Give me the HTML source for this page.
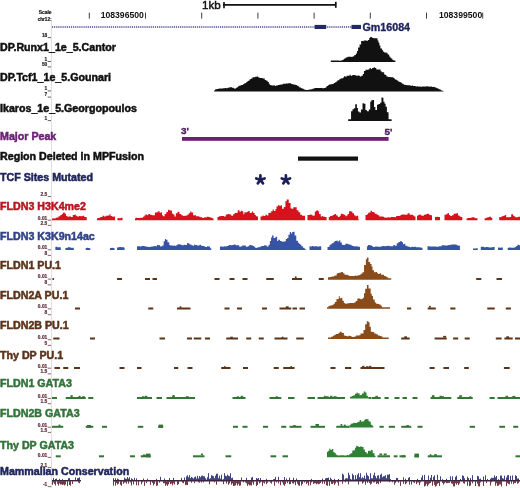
<!DOCTYPE html>
<html><head><meta charset="utf-8"><style>
html,body{margin:0;padding:0;background:#fff;width:520px;height:488px;overflow:hidden}
svg{display:block;font-family:"Liberation Sans", sans-serif;filter:blur(0.4px)}
</style></head><body>
<svg width="520" height="488" viewBox="0 0 520 488">
<line x1="51.5" y1="20" x2="51.5" y2="488" stroke="#e2dede" stroke-width="1" />
<text x="51.5" y="14.4" fill="#111" font-size="4.9" font-weight="bold" text-anchor="end" stroke="#111" stroke-width="0.2" >Scale</text>
<text x="51.5" y="20.7" fill="#111" font-size="4.6" font-weight="bold" text-anchor="end" stroke="#111" stroke-width="0.2" >chr12:</text>
<line x1="89.3" y1="12.6" x2="89.3" y2="18.6" stroke="#333" stroke-width="0.95" />
<line x1="145.5" y1="12.6" x2="145.5" y2="18.6" stroke="#333" stroke-width="0.95" />
<line x1="201.7" y1="12.6" x2="201.7" y2="18.6" stroke="#333" stroke-width="0.95" />
<line x1="257.90000000000003" y1="12.6" x2="257.90000000000003" y2="18.6" stroke="#333" stroke-width="0.95" />
<line x1="314.1" y1="12.6" x2="314.1" y2="18.6" stroke="#333" stroke-width="0.95" />
<line x1="370.3" y1="12.6" x2="370.3" y2="18.6" stroke="#333" stroke-width="0.95" />
<line x1="426.50000000000006" y1="12.6" x2="426.50000000000006" y2="18.6" stroke="#333" stroke-width="0.95" />
<line x1="482.70000000000005" y1="12.6" x2="482.70000000000005" y2="18.6" stroke="#333" stroke-width="0.95" />
<text x="143.9" y="18.1" fill="#111" font-size="9.3" font-weight="bold" text-anchor="end" transform="translate(143.9,18.1) scale(0.93,1) translate(-143.9,-18.1)">108396500</text>
<text x="482.2" y="18.1" fill="#111" font-size="9.3" font-weight="bold" text-anchor="end" transform="translate(482.2,18.1) scale(0.93,1) translate(-482.2,-18.1)">108399500</text>
<text x="202" y="8.9" fill="#111" font-size="11.6" font-weight="normal" text-anchor="start" stroke="#111" stroke-width="0.45" >1kb</text>
<line x1="223" y1="4.9" x2="336" y2="4.9" stroke="#111" stroke-width="1.8" />
<line x1="224" y1="2" x2="224" y2="8.2" stroke="#111" stroke-width="1.6" />
<line x1="335.8" y1="1.8" x2="335.8" y2="7.8" stroke="#111" stroke-width="1.7" />
<line x1="52" y1="27.1" x2="352" y2="27.1" stroke="#4a4a90" stroke-width="1.5" stroke-dasharray="1.2 0.9"/>
<rect x="314.6" y="24.9" width="11.6" height="4.1" fill="#24286a"/>
<rect x="351.5" y="24.9" width="9.5" height="4.1" fill="#24286a"/>
<text x="362.5" y="30.5" fill="#20265c" font-size="10.7" font-weight="bold" text-anchor="start" stroke="#20265c" stroke-width="0.35" >Gm16084</text>
<text transform="translate(0,50.5) scale(1.022,1)" fill="#111111" font-size="10.45" font-weight="bold" text-anchor="start" stroke="#111111" stroke-width="0.5" >DP.Runx1_1e_5.Cantor</text>
<text transform="translate(0,80.5) scale(1.022,1)" fill="#111111" font-size="10.45" font-weight="bold" text-anchor="start" stroke="#111111" stroke-width="0.5" >DP.Tcf1_1e_5.Gounari</text>
<text transform="translate(0,111.9) scale(1.022,1)" fill="#111111" font-size="10.45" font-weight="bold" text-anchor="start" stroke="#111111" stroke-width="0.5" >Ikaros_1e_5.Georgopoulos</text>
<text transform="translate(0,140.39999999999998) scale(1.022,1)" fill="#6c2276" font-size="10.45" font-weight="bold" text-anchor="start" stroke="#6c2276" stroke-width="0.5" >Major Peak</text>
<text transform="translate(0,160.2) scale(1.022,1)" fill="#111111" font-size="10.45" font-weight="bold" text-anchor="start" stroke="#111111" stroke-width="0.5" >Region Deleted in MPFusion</text>
<text transform="translate(0,181.39999999999998) scale(1.022,1)" fill="#20265c" font-size="10.45" font-weight="bold" text-anchor="start" stroke="#20265c" stroke-width="0.5" >TCF Sites Mutated</text>
<text transform="translate(0,209.89999999999998) scale(1.022,1)" fill="#b81522" font-size="10.45" font-weight="bold" text-anchor="start" stroke="#b81522" stroke-width="0.5" >FLDN3 H3K4me2</text>
<text transform="translate(0,240.2) scale(1.022,1)" fill="#31438a" font-size="10.45" font-weight="bold" text-anchor="start" stroke="#31438a" stroke-width="0.5" >FLDN3 K3K9n14ac</text>
<text transform="translate(0,269.4) scale(1.022,1)" fill="#5c331a" font-size="10.45" font-weight="bold" text-anchor="start" stroke="#5c331a" stroke-width="0.5" >FLDN1 PU.1</text>
<text transform="translate(0,299.4) scale(1.022,1)" fill="#5c331a" font-size="10.45" font-weight="bold" text-anchor="start" stroke="#5c331a" stroke-width="0.5" >FLDN2A PU.1</text>
<text transform="translate(0,328.5) scale(1.022,1)" fill="#5c331a" font-size="10.45" font-weight="bold" text-anchor="start" stroke="#5c331a" stroke-width="0.5" >FLDN2B PU.1</text>
<text transform="translate(0,358.5) scale(1.022,1)" fill="#5c331a" font-size="10.45" font-weight="bold" text-anchor="start" stroke="#5c331a" stroke-width="0.5" >Thy DP PU.1</text>
<text transform="translate(0,387.2) scale(1.022,1)" fill="#33733a" font-size="10.45" font-weight="bold" text-anchor="start" stroke="#33733a" stroke-width="0.5" >FLDN1 GATA3</text>
<text transform="translate(0,417.2) scale(1.022,1)" fill="#33733a" font-size="10.45" font-weight="bold" text-anchor="start" stroke="#33733a" stroke-width="0.5" >FLDN2B GATA3</text>
<text transform="translate(0,449.09999999999997) scale(1.022,1)" fill="#33733a" font-size="10.45" font-weight="bold" text-anchor="start" stroke="#33733a" stroke-width="0.5" >Thy DP GATA3</text>
<text transform="translate(0,474.9) scale(1.022,1)" fill="#20265c" font-size="10.45" font-weight="bold" text-anchor="start" stroke="#20265c" stroke-width="0.5" >Mammalian Conservation</text>
<text x="47.3" y="36.95" fill="#222" font-size="4.85" font-weight="bold" text-anchor="end" stroke="#222" stroke-width="0.15" >18</text>
<line x1="47.7" y1="37.6" x2="51" y2="37.6" stroke="#222" stroke-width="0.7" />
<text x="47.3" y="60.85" fill="#222" font-size="4.85" font-weight="bold" text-anchor="end" stroke="#222" stroke-width="0.15" >1</text>
<line x1="47.7" y1="61.5" x2="51" y2="61.5" stroke="#222" stroke-width="0.7" />
<text x="47.3" y="66.25" fill="#222" font-size="4.85" font-weight="bold" text-anchor="end" stroke="#222" stroke-width="0.15" >50</text>
<line x1="47.7" y1="66.9" x2="51" y2="66.9" stroke="#222" stroke-width="0.7" />
<text x="47.3" y="90.25" fill="#222" font-size="4.85" font-weight="bold" text-anchor="end" stroke="#222" stroke-width="0.15" >1</text>
<line x1="47.7" y1="90.9" x2="51" y2="90.9" stroke="#222" stroke-width="0.7" />
<text x="47.3" y="96.45" fill="#222" font-size="4.85" font-weight="bold" text-anchor="end" stroke="#222" stroke-width="0.15" >7</text>
<line x1="47.7" y1="97.10000000000001" x2="51" y2="97.10000000000001" stroke="#222" stroke-width="0.7" />
<text x="47.3" y="119.95" fill="#222" font-size="4.85" font-weight="bold" text-anchor="end" stroke="#222" stroke-width="0.15" >1</text>
<line x1="47.7" y1="120.60000000000001" x2="51" y2="120.60000000000001" stroke="#222" stroke-width="0.7" />
<polygon fill="#111111" points="330.80,62.00 330.80,60.59 332.02,60.59 332.02,60.60 333.64,60.60 333.64,60.59 334.90,60.59 334.90,60.60 335.90,60.60 335.90,60.57 337.27,60.57 337.27,60.62 338.19,60.62 338.19,60.57 339.10,60.57 339.10,60.65 340.52,60.65 340.52,60.55 342.19,60.55 342.19,60.05 343.58,60.05 343.58,59.12 344.55,59.12 344.55,58.13 345.84,58.13 345.84,57.59 346.84,57.59 346.84,57.21 347.70,57.21 347.70,56.72 348.91,56.72 348.91,56.79 350.19,56.79 350.19,56.84 351.45,56.84 351.45,57.05 352.67,57.05 352.67,56.31 354.35,56.31 354.35,54.90 355.89,54.90 355.89,53.55 357.00,53.55 357.00,50.95 358.08,50.95 358.08,47.38 359.57,47.38 359.57,44.47 361.12,44.47 361.12,40.96 362.76,40.96 362.76,41.24 363.60,41.24 363.60,40.57 365.21,40.57 365.21,40.41 366.87,40.41 366.87,41.11 367.77,41.11 367.77,39.99 369.27,39.99 369.27,38.02 370.18,38.02 370.18,36.91 371.83,36.91 371.83,37.65 372.77,37.65 372.77,37.97 373.69,37.97 373.69,38.21 375.20,38.21 375.20,38.24 376.51,38.24 376.51,38.19 377.51,38.19 377.51,40.42 378.46,40.42 378.46,42.76 379.40,42.76 379.40,45.42 380.42,45.42 380.42,48.39 382.07,48.39 382.07,50.17 383.17,50.17 383.17,51.67 384.19,51.67 384.19,52.48 385.74,52.48 385.74,52.51 386.67,52.51 386.67,53.25 387.69,53.25 387.69,54.39 389.18,54.39 389.18,56.40 390.27,56.40 390.27,57.66 391.18,57.66 391.18,58.62 392.23,58.62 392.23,59.68 393.38,59.68 393.38,60.60 395.02,60.60 395.02,60.56 395.40,60.56 395.40,62.00"/>
<polygon fill="#111111" points="214.25,91.50 214.25,90.22 215.24,90.22 215.24,89.22 216.85,89.22 216.85,89.10 217.90,89.10 217.90,88.65 219.36,88.65 219.36,88.53 220.36,88.53 220.36,88.51 221.94,88.51 221.94,88.55 223.14,88.55 223.14,88.19 224.01,88.19 224.01,88.19 225.05,88.19 225.05,88.06 226.11,88.06 226.11,88.13 227.45,88.13 227.45,87.80 228.43,87.80 228.43,87.74 229.33,87.74 229.33,87.19 230.64,87.19 230.64,87.13 232.00,87.13 232.00,87.84 233.61,87.84 233.61,88.37 234.46,88.37 234.46,88.83 235.68,88.83 235.68,88.02 236.67,88.02 236.67,87.36 237.99,87.36 237.99,86.18 239.13,86.18 239.13,85.68 240.79,85.68 240.79,85.09 242.21,85.09 242.21,84.99 243.17,84.99 243.17,84.02 244.03,84.02 244.03,83.50 245.46,83.50 245.46,82.97 246.31,82.97 246.31,82.09 247.56,82.09 247.56,80.91 248.67,80.91 248.67,80.61 249.57,80.61 249.57,79.33 251.03,79.33 251.03,78.57 252.49,78.57 252.49,77.27 253.99,77.27 253.99,77.13 255.13,77.13 255.13,76.68 256.73,76.68 256.73,76.60 257.92,76.60 257.92,77.23 259.48,77.23 259.48,77.91 260.85,77.91 260.85,77.98 262.18,77.98 262.18,78.25 263.08,78.25 263.08,78.38 264.76,78.38 264.76,80.04 266.21,80.04 266.21,80.79 267.67,80.79 267.67,82.10 268.88,82.10 268.88,83.81 269.79,83.81 269.79,84.97 270.65,84.97 270.65,85.36 271.90,85.36 271.90,85.39 273.32,85.39 273.32,85.35 274.68,85.35 274.68,86.00 275.73,86.00 275.73,85.45 276.83,85.45 276.83,85.60 277.84,85.60 277.84,85.10 279.44,85.10 279.44,84.73 280.65,84.73 280.65,84.55 281.76,84.55 281.76,84.41 282.77,84.41 282.77,83.70 284.29,83.70 284.29,83.67 285.87,83.67 285.87,83.43 287.20,83.43 287.20,83.40 288.15,83.40 288.15,83.24 289.70,83.24 289.70,83.31 291.13,83.31 291.13,84.12 292.21,84.12 292.21,84.35 293.42,84.35 293.42,84.56 294.44,84.56 294.44,84.84 295.81,84.84 295.81,84.97 296.91,84.97 296.91,85.69 298.58,85.69 298.58,86.73 299.48,86.73 299.48,87.49 301.05,87.49 301.05,88.25 302.49,88.25 302.49,88.86 303.59,88.86 303.59,89.34 304.45,89.34 304.45,89.69 305.67,89.69 305.67,90.02 307.20,90.02 307.20,89.93 308.16,89.93 308.16,89.75 309.53,89.75 309.53,89.57 310.90,89.57 310.90,89.24 312.42,89.24 312.42,88.83 313.83,88.83 313.83,88.32 315.07,88.32 315.07,88.01 315.92,88.01 315.92,88.11 317.36,88.11 317.36,88.05 318.43,88.05 318.43,87.99 319.86,87.99 319.86,87.91 321.21,87.91 321.21,87.90 322.38,87.90 322.38,88.14 323.98,88.14 323.98,87.92 325.61,87.92 325.61,87.15 326.56,87.15 326.56,85.99 327.92,85.99 327.92,85.16 329.08,85.16 329.08,84.44 330.66,84.44 330.66,84.16 332.29,84.16 332.29,83.88 333.68,83.88 333.68,82.93 335.12,82.93 335.12,82.25 336.50,82.25 336.50,81.24 337.52,81.24 337.52,80.20 339.19,80.20 339.19,79.37 340.48,79.37 340.48,78.38 341.59,78.38 341.59,78.28 343.15,78.28 343.15,77.42 344.05,77.42 344.05,76.28 345.36,76.28 345.36,76.65 346.61,76.65 346.61,75.80 348.13,75.80 348.13,75.67 349.64,75.67 349.64,74.80 350.76,74.80 350.76,75.94 351.72,75.94 351.72,75.13 352.99,75.13 352.99,75.07 354.54,75.07 354.54,75.23 356.17,75.23 356.17,75.73 357.81,75.73 357.81,75.40 358.83,75.40 358.83,75.65 359.92,75.65 359.92,76.62 361.29,76.62 361.29,75.65 362.84,75.65 362.84,73.92 363.95,73.92 363.95,70.88 365.50,70.88 365.50,69.86 366.51,69.86 366.51,69.68 368.16,69.68 368.16,69.44 369.49,69.44 369.49,67.99 370.78,67.99 370.78,69.11 372.12,69.11 372.12,67.96 373.78,67.96 373.78,67.29 374.95,67.29 374.95,68.02 376.27,68.02 376.27,69.47 377.69,69.47 377.69,69.55 378.98,69.55 378.98,69.41 380.62,69.41 380.62,71.24 381.69,71.24 381.69,72.16 382.64,72.16 382.64,72.34 384.16,72.34 384.16,74.57 385.40,74.57 385.40,75.01 386.40,75.01 386.40,76.39 388.02,76.39 388.02,77.03 389.51,77.03 389.51,77.11 390.52,77.11 390.52,77.35 391.94,77.35 391.94,77.33 393.07,77.33 393.07,77.74 394.00,77.74 394.00,78.54 394.94,78.54 394.94,79.46 396.00,79.46 396.00,79.83 397.28,79.83 397.28,80.67 398.44,80.67 398.44,81.73 399.72,81.73 399.72,82.01 400.73,82.01 400.73,82.83 402.11,82.83 402.11,83.65 403.66,83.65 403.66,84.85 405.22,84.85 405.22,84.90 406.69,84.90 406.69,85.36 408.28,85.36 408.28,85.13 409.39,85.13 409.39,85.19 410.41,85.19 410.41,85.84 412.00,85.84 412.00,85.62 413.04,85.62 413.04,86.12 414.10,86.12 414.10,86.11 415.64,86.11 415.64,86.46 417.14,86.46 417.14,86.35 418.32,86.35 418.32,86.73 419.17,86.73 419.17,86.54 420.59,86.54 420.59,86.84 422.24,86.84 422.24,86.43 423.50,86.43 423.50,86.38 424.77,86.38 424.77,86.62 425.76,86.62 425.76,86.57 426.69,86.57 426.69,86.25 428.00,86.25 428.00,86.57 429.32,86.57 429.32,86.67 430.31,86.67 430.31,86.44 431.86,86.44 431.86,87.06 433.47,87.06 433.47,86.86 434.37,86.86 434.37,87.32 435.59,87.32 435.59,87.85 436.71,87.85 436.71,88.28 437.98,88.28 437.98,88.85 439.33,88.85 439.33,89.39 440.76,89.39 440.76,90.13 441.75,90.13 441.75,90.81 443.21,90.81 443.21,91.36 443.75,91.36 443.75,91.50"/>
<polygon fill="#111111" points="348.20,120.90 348.20,119.36 349.47,119.36 349.47,119.26 351.06,119.26 351.06,111.34 352.49,111.34 352.49,109.14 353.86,109.14 353.86,108.34 355.21,108.34 355.21,104.22 356.87,104.22 356.87,107.98 357.93,107.98 357.93,111.53 359.39,111.53 359.39,112.43 360.92,112.43 360.92,109.45 362.51,109.45 362.51,103.13 363.93,103.13 363.93,103.63 365.42,103.63 365.42,109.88 366.86,109.88 366.86,111.25 367.99,111.25 367.99,111.25 368.84,111.25 368.84,109.59 370.22,109.59 370.22,101.84 371.25,101.84 371.25,100.27 372.65,100.27 372.65,99.88 374.04,99.88 374.04,106.95 375.33,106.95 375.33,109.95 377.01,109.95 377.01,104.64 378.44,104.64 378.44,103.96 380.10,103.96 380.10,102.69 381.46,102.69 381.46,97.39 382.52,97.39 382.52,97.78 383.40,97.78 383.40,101.71 384.56,101.71 384.56,103.77 385.61,103.77 385.61,106.87 386.91,106.87 386.91,112.33 388.56,112.33 388.56,119.17 390.24,119.17 390.24,119.35 391.60,119.35 391.60,120.90"/>
<text x="181" y="134.2" fill="#4b1d5e" font-size="9.9" font-weight="bold" text-anchor="start" stroke="#4b1d5e" stroke-width="0.4" >3'</text>
<text x="384.4" y="134.5" fill="#4b1d5e" font-size="9.9" font-weight="bold" text-anchor="start" stroke="#4b1d5e" stroke-width="0.4" >5'</text>
<rect x="182" y="137" width="206.6" height="3.8" fill="#6e1f6e"/>
<rect x="298" y="156.5" width="60" height="4.2" fill="#111111"/>
<path d="M260.40,179.80L260.40,175.40M260.40,179.80L264.58,178.44M260.40,179.80L262.99,183.36M260.40,179.80L257.81,183.36M260.40,179.80L256.22,178.44" stroke="#1c1f5c" stroke-width="2.7" fill="none" stroke-linecap="round"/>
<path d="M285.90,179.80L285.90,175.40M285.90,179.80L290.08,178.44M285.90,179.80L288.49,183.36M285.90,179.80L283.31,183.36M285.90,179.80L281.72,178.44" stroke="#1c1f5c" stroke-width="2.7" fill="none" stroke-linecap="round"/>
<polygon fill="#d6121c" points="52.00,220.20 52.00,218.38 53.57,218.38 53.57,218.30 54.59,218.30 54.59,218.43 55.73,218.43 55.73,217.85 56.87,217.85 56.87,217.49 58.45,217.49 58.45,216.15 60.36,216.15 60.36,215.06 61.85,215.06 61.85,213.80 63.19,213.80 63.19,212.57 64.81,212.57 64.81,213.76 66.07,213.76 66.07,215.94 67.34,215.94 67.34,216.77 68.56,216.77 68.56,216.42 69.70,216.42 69.70,216.56 71.06,216.56 71.06,216.95 72.77,216.95 72.77,215.06 74.72,215.06 74.72,214.55 75.77,214.55 75.77,215.76 77.17,215.76 77.17,216.48 79.11,216.48 79.11,216.02 80.60,216.02 80.60,216.31 82.29,216.31 82.29,215.63 84.23,215.63 84.23,217.08 85.80,217.08 85.80,217.30 86.75,217.30 86.75,220.20"/>
<polygon fill="#d6121c" points="97.00,220.20 97.00,218.28 98.18,218.28 98.18,218.04 99.68,218.04 99.68,217.19 101.09,217.19 101.09,216.91 102.52,216.91 102.52,215.63 104.07,215.63 104.07,216.48 105.81,216.48 105.81,215.81 107.77,215.81 107.77,215.46 109.47,215.46 109.47,214.33 110.56,214.33 110.56,215.90 112.31,215.90 112.31,216.74 113.64,216.74 113.64,216.43 115.00,216.43 115.00,220.20"/>
<polygon fill="#d6121c" points="117.50,220.20 117.50,217.92 119.06,217.92 119.06,218.19 120.78,218.19 120.78,217.70 122.00,217.70 122.00,217.77 122.50,217.77 122.50,220.20"/>
<polygon fill="#d6121c" points="135.00,220.20 135.00,218.18 136.02,218.18 136.02,217.80 137.26,217.80 137.26,218.02 138.86,218.02 138.86,218.04 140.37,218.04 140.37,217.63 141.43,217.63 141.43,217.66 142.95,217.66 142.95,216.65 144.30,216.65 144.30,215.57 145.48,215.57 145.48,214.41 147.19,214.41 147.19,215.17 148.25,215.17 148.25,214.01 150.02,214.01 150.02,214.77 151.75,214.77 151.75,215.18 153.15,215.18 153.15,215.19 154.92,215.19 154.92,212.62 156.54,212.62 156.54,212.16 157.84,212.16 157.84,211.30 159.55,211.30 159.55,212.83 160.95,212.83 160.95,212.36 162.03,212.36 162.03,215.35 163.08,215.35 163.08,216.35 164.62,216.35 164.62,214.01 166.27,214.01 166.27,212.03 168.01,212.03 168.01,209.75 169.20,209.75 169.20,210.22 170.26,210.22 170.26,210.43 171.95,210.43 171.95,213.60 173.20,213.60 173.20,214.46 174.53,214.46 174.53,216.57 175.87,216.57 175.87,213.29 177.55,213.29 177.55,211.73 179.43,211.73 179.43,214.02 181.30,214.02 181.30,215.28 183.07,215.28 183.07,215.94 184.36,215.94 184.36,215.86 186.26,215.86 186.26,215.44 187.48,215.44 187.48,214.62 188.82,214.62 188.82,213.32 190.19,213.32 190.19,211.42 191.36,211.42 191.36,212.60 193.12,212.60 193.12,215.22 194.92,215.22 194.92,215.27 196.07,215.27 196.07,216.16 197.92,216.16 197.92,216.30 198.92,216.30 198.92,216.70 200.43,216.70 200.43,217.24 202.36,217.24 202.36,217.95 204.13,217.95 204.13,217.17 205.64,217.17 205.64,217.55 206.70,217.55 206.70,216.65 208.41,216.65 208.41,217.10 209.47,217.10 209.47,217.19 210.59,217.19 210.59,217.77 212.21,217.77 212.21,218.21 213.40,218.21 213.40,219.83 213.75,219.83 213.75,220.20"/>
<polygon fill="#d6121c" points="217.50,220.20 217.50,216.97 218.87,216.97 218.87,216.19 220.80,216.19 220.80,215.99 222.26,215.99 222.26,216.02 223.95,216.02 223.95,216.58 225.82,216.58 225.82,214.53 227.61,214.53 227.61,213.91 229.43,213.91 229.43,214.58 231.23,214.58 231.23,215.70 233.14,215.70 233.14,214.18 234.64,214.18 234.64,212.94 236.40,212.94 236.40,212.66 237.80,212.66 237.80,210.33 239.50,210.33 239.50,211.66 240.85,211.66 240.85,210.74 242.03,210.74 242.03,211.34 243.30,211.34 243.30,214.27 244.33,214.27 244.33,212.57 245.43,212.57 245.43,212.29 247.17,212.29 247.17,211.79 248.21,211.79 248.21,210.91 249.76,210.91 249.76,212.90 250.78,212.90 250.78,212.65 251.94,212.65 251.94,211.50 253.15,211.50 253.15,212.93 254.71,212.93 254.71,215.11 255.87,215.11 255.87,216.23 257.02,216.23 257.02,216.45 258.00,216.45 258.00,220.20"/>
<polygon fill="#d6121c" points="260.50,220.20 260.50,216.58 262.28,216.58 262.28,215.48 263.52,215.48 263.52,215.91 265.39,215.91 265.39,214.84 266.91,214.84 266.91,215.51 268.36,215.51 268.36,213.08 269.39,213.08 269.39,212.73 271.16,212.73 271.16,211.24 272.65,211.24 272.65,209.54 273.90,209.54 273.90,211.07 275.53,211.07 275.53,209.06 276.52,209.06 276.52,206.46 277.86,206.46 277.86,205.37 279.54,205.37 279.54,205.99 280.67,205.99 280.67,205.31 281.97,205.31 281.97,208.83 283.80,208.83 283.80,207.01 285.41,207.01 285.41,201.31 286.65,201.31 286.65,199.58 287.77,199.58 287.77,199.56 288.76,199.56 288.76,202.88 290.56,202.88 290.56,208.22 291.63,208.22 291.63,208.75 293.31,208.75 293.31,207.35 294.76,207.35 294.76,207.13 296.67,207.13 296.67,210.22 298.49,210.22 298.49,212.31 300.25,212.31 300.25,214.65 302.13,214.65 302.13,215.80 303.92,215.80 303.92,215.81 305.00,215.81 305.00,220.20"/>
<polygon fill="#d6121c" points="307.50,220.20 307.50,215.11 308.63,215.11 308.63,214.88 309.92,214.88 309.92,214.62 310.97,214.62 310.97,214.82 312.41,214.82 312.41,215.83 313.74,215.83 313.74,215.46 314.83,215.46 314.83,211.55 316.26,211.55 316.26,210.60 318.05,210.60 318.05,211.32 319.05,211.32 319.05,213.99 320.72,213.99 320.72,216.54 322.25,216.54 322.25,215.99 323.24,215.99 323.24,216.80 325.01,216.80 325.01,216.89 326.59,216.89 326.59,219.90 326.75,219.90 326.75,220.20"/>
<polygon fill="#d6121c" points="328.75,220.20 328.75,216.90 330.02,216.90 330.02,216.03 331.39,216.03 331.39,215.99 332.62,215.99 332.62,215.08 334.31,215.08 334.31,214.07 336.22,214.07 336.22,215.60 337.91,215.60 337.91,216.88 339.70,216.88 339.70,215.85 340.82,215.85 340.82,213.84 342.46,213.84 342.46,214.03 343.62,214.03 343.62,214.71 345.42,214.71 345.42,216.14 346.49,216.14 346.49,215.48 347.62,215.48 347.62,214.08 349.00,214.08 349.00,211.26 350.88,211.26 350.88,211.61 352.36,211.61 352.36,213.31 354.10,213.31 354.10,215.35 355.45,215.35 355.45,216.22 356.84,216.22 356.84,215.85 358.21,215.85 358.21,219.22 358.75,219.22 358.75,220.20"/>
<polygon fill="#d6121c" points="365.50,220.20 365.50,215.03 367.13,215.03 367.13,214.21 368.13,214.21 368.13,212.85 369.44,212.85 369.44,212.61 370.52,212.61 370.52,210.80 372.00,210.80 372.00,212.08 373.79,212.08 373.79,212.52 374.93,212.52 374.93,213.72 376.79,213.72 376.79,214.80 378.12,214.80 378.12,215.34 379.24,215.34 379.24,216.52 381.18,216.52 381.18,216.52 382.87,216.52 382.87,216.69 384.04,216.69 384.04,217.55 385.63,217.55 385.63,217.72 386.69,217.72 386.69,217.61 388.24,217.61 388.24,217.30 389.54,217.30 389.54,217.51 390.88,217.51 390.88,216.98 391.98,216.98 391.98,216.91 393.09,216.91 393.09,217.06 394.60,217.06 394.60,217.14 396.13,217.14 396.13,216.09 398.00,216.09 398.00,216.11 399.78,216.11 399.78,215.42 400.88,215.42 400.88,214.63 402.15,214.63 402.15,214.41 403.36,214.41 403.36,214.55 405.16,214.55 405.16,214.74 406.67,214.74 406.67,214.56 407.69,214.56 407.69,213.24 409.63,213.24 409.63,214.87 411.26,214.87 411.26,214.77 412.90,214.77 412.90,215.40 414.25,215.40 414.25,216.43 415.50,216.43 415.50,220.20"/>
<polygon fill="#d6121c" points="417.00,220.20 417.00,215.65 418.18,215.65 418.18,215.01 419.30,215.01 419.30,214.61 420.83,214.61 420.83,215.59 422.32,215.59 422.32,215.63 423.86,215.63 423.86,214.66 425.47,214.66 425.47,214.32 427.11,214.32 427.11,213.73 429.03,213.73 429.03,214.75 430.47,214.75 430.47,215.28 432.00,215.28 432.00,220.20"/>
<polygon fill="#d6121c" points="435.00,220.20 435.00,217.04 436.72,217.04 436.72,216.84 438.18,216.84 438.18,216.96 439.98,216.96 439.98,217.30 440.00,217.30 440.00,220.20"/>
<polygon fill="#d6121c" points="444.50,220.20 444.50,214.84 446.03,214.84 446.03,214.13 447.53,214.13 447.53,213.11 448.93,213.11 448.93,214.99 450.23,214.99 450.23,215.96 451.92,215.96 451.92,215.32 453.62,215.32 453.62,213.73 455.33,213.73 455.33,213.49 456.89,213.49 456.89,213.14 458.00,213.14 458.00,215.57 459.47,215.57 459.47,216.27 460.50,216.27 460.50,217.01 462.00,217.01 462.00,217.06 462.30,217.06 462.30,220.20"/>
<polygon fill="#d6121c" points="466.50,220.20 466.50,218.53 467.71,218.53 467.71,218.05 469.58,218.05 469.58,218.11 471.22,218.11 471.22,217.49 472.61,217.49 472.61,216.92 473.81,216.92 473.81,217.78 475.34,217.78 475.34,218.14 476.42,218.14 476.42,218.28 477.50,218.28 477.50,220.20"/>
<polygon fill="#d6121c" points="484.60,220.20 484.60,218.14 486.51,218.14 486.51,217.59 487.73,217.59 487.73,217.23 489.03,217.23 489.03,216.69 490.89,216.69 490.89,217.82 492.26,217.82 492.26,218.27 492.30,218.27 492.30,220.20"/>
<polygon fill="#d6121c" points="499.20,220.20 499.20,217.10 500.21,217.10 500.21,217.21 501.49,217.21 501.49,216.15 503.39,216.15 503.39,215.63 504.83,215.63 504.83,215.05 506.10,215.05 506.10,217.27 507.96,217.27 507.96,217.13 509.76,217.13 509.76,216.88 511.20,216.88 511.20,214.24 513.05,214.24 513.05,215.73 514.22,215.73 514.22,216.49 515.39,216.49 515.39,217.35 516.42,217.35 516.42,217.17 518.11,217.17 518.11,216.67 519.97,216.67 519.97,217.33 520.00,217.33 520.00,220.20"/>
<polygon fill="#3653a6" points="55.40,249.90 55.40,246.64 57.06,246.64 57.06,247.34 58.48,247.34 58.48,247.16 59.68,247.16 59.68,247.25 60.80,247.25 60.80,249.90"/>
<polygon fill="#3653a6" points="65.40,249.90 65.40,247.96 66.56,247.96 66.56,247.63 68.19,247.63 68.19,247.10 69.53,247.10 69.53,247.50 71.38,247.50 71.38,247.92 72.58,247.92 72.58,247.70 73.80,247.70 73.80,249.90"/>
<polygon fill="#3653a6" points="85.70,249.90 85.70,247.93 86.95,247.93 86.95,247.74 88.02,247.74 88.02,247.98 89.43,247.98 89.43,248.24 90.30,248.24 90.30,249.90"/>
<polygon fill="#3653a6" points="110.00,249.90 110.00,248.11 111.57,248.11 111.57,247.84 112.79,247.84 112.79,248.11 113.86,248.11 113.86,248.14 114.60,248.14 114.60,249.90"/>
<polygon fill="#3653a6" points="117.00,249.90 117.00,247.47 118.25,247.47 118.25,247.23 119.42,247.23 119.42,246.92 121.36,246.92 121.36,247.33 122.80,247.33 122.80,247.21 124.15,247.21 124.15,247.72 124.60,247.72 124.60,249.90"/>
<polygon fill="#3653a6" points="137.00,249.90 137.00,246.36 138.52,246.36 138.52,246.35 139.86,246.35 139.86,246.48 141.60,246.48 141.60,246.01 143.08,246.01 143.08,246.12 144.73,246.12 144.73,246.46 146.64,246.46 146.64,246.73 148.39,246.73 148.39,246.91 149.96,246.91 149.96,246.68 151.37,246.68 151.37,246.46 153.13,246.46 153.13,246.32 154.34,246.32 154.34,245.88 155.53,245.88 155.53,246.16 157.00,246.16 157.00,245.05 158.57,245.05 158.57,245.27 160.11,245.27 160.11,246.42 161.27,246.42 161.27,246.32 162.26,246.32 162.26,245.41 163.67,245.41 163.67,241.37 164.91,241.37 164.91,239.05 165.96,239.05 165.96,239.78 167.49,239.78 167.49,242.27 169.25,242.27 169.25,245.10 170.37,245.10 170.37,245.62 171.40,245.62 171.40,245.55 172.98,245.55 172.98,245.69 174.22,245.69 174.22,245.61 175.29,245.61 175.29,245.95 176.44,245.95 176.44,244.95 177.58,244.95 177.58,244.19 179.37,244.19 179.37,244.19 180.41,244.19 180.41,244.72 181.75,244.72 181.75,245.35 183.68,245.35 183.68,244.75 185.14,244.75 185.14,245.05 187.08,245.05 187.08,242.94 188.51,242.94 188.51,243.44 189.53,243.44 189.53,244.49 191.38,244.49 191.38,245.24 192.75,245.24 192.75,245.80 194.14,245.80 194.14,244.60 195.16,244.60 195.16,244.95 196.88,244.95 196.88,245.57 198.09,245.57 198.09,245.59 199.61,245.59 199.61,244.78 201.04,244.78 201.04,245.87 202.38,245.87 202.38,245.97 204.32,245.97 204.32,246.55 205.34,246.55 205.34,246.92 206.96,246.92 206.96,246.31 208.27,246.31 208.27,246.41 210.10,246.41 210.10,248.35 211.25,248.35 211.25,249.90"/>
<polygon fill="#3653a6" points="220.00,249.90 220.00,246.62 221.37,246.62 221.37,246.48 222.72,246.48 222.72,246.70 223.91,246.70 223.91,246.35 225.07,246.35 225.07,246.55 226.21,246.55 226.21,246.13 227.40,246.13 227.40,245.89 228.68,245.89 228.68,245.08 230.64,245.08 230.64,245.13 232.46,245.13 232.46,244.88 233.82,244.88 233.82,244.46 235.47,244.46 235.47,245.34 236.72,245.34 236.72,245.28 237.88,245.28 237.88,245.13 239.25,245.13 239.25,246.69 240.93,246.69 240.93,246.35 242.26,246.35 242.26,245.61 244.16,245.61 244.16,245.41 245.89,245.41 245.89,246.76 247.76,246.76 247.76,246.30 249.05,246.30 249.05,245.33 250.12,245.33 250.12,245.01 251.41,245.01 251.41,245.50 252.90,245.50 252.90,245.93 254.27,245.93 254.27,246.90 255.29,246.90 255.29,247.91 256.85,247.91 256.85,247.45 258.14,247.45 258.14,247.30 259.65,247.30 259.65,246.79 261.32,246.79 261.32,245.92 263.02,245.92 263.02,246.12 264.14,246.12 264.14,245.29 265.39,245.29 265.39,245.43 266.77,245.43 266.77,246.54 268.60,246.54 268.60,244.63 269.87,244.63 269.87,240.89 271.06,240.89 271.06,237.47 272.06,237.47 272.06,235.46 273.60,235.46 273.60,237.91 275.53,237.91 275.53,236.67 277.17,236.67 277.17,240.96 278.36,240.96 278.36,239.80 280.00,239.80 280.00,241.07 281.83,241.07 281.83,241.76 283.43,241.76 283.43,241.47 284.83,241.47 284.83,241.22 285.86,241.22 285.86,238.98 287.17,238.98 287.17,238.09 288.42,238.09 288.42,234.82 289.79,234.82 289.79,232.04 290.94,232.04 290.94,233.60 292.15,233.60 292.15,231.90 293.47,231.90 293.47,231.80 294.60,231.80 294.60,235.49 296.26,235.49 296.26,240.84 297.93,240.84 297.93,242.75 299.29,242.75 299.29,243.98 300.33,243.98 300.33,244.86 301.37,244.86 301.37,246.18 302.92,246.18 302.92,247.64 304.22,247.64 304.22,248.57 305.22,248.57 305.22,249.43 306.25,249.43 306.25,249.90"/>
<polygon fill="#3653a6" points="309.50,249.90 309.50,246.34 310.74,246.34 310.74,246.53 311.90,246.53 311.90,246.07 313.48,246.07 313.48,246.43 314.82,246.43 314.82,246.24 316.72,246.24 316.72,246.38 318.32,246.38 318.32,246.58 319.70,246.58 319.70,246.19 320.95,246.19 320.95,246.61 321.25,246.61 321.25,249.90"/>
<polygon fill="#3653a6" points="327.50,249.90 327.50,246.94 329.37,246.94 329.37,245.31 330.48,245.31 330.48,244.35 331.77,244.35 331.77,243.24 333.70,243.24 333.70,241.64 334.87,241.64 334.87,241.06 336.52,241.06 336.52,240.44 337.50,240.44 337.50,241.40 338.87,241.40 338.87,240.56 340.33,240.56 340.33,242.61 341.85,242.61 341.85,244.79 343.38,244.79 343.38,245.03 345.31,245.03 345.31,243.79 346.63,243.79 346.63,243.70 347.91,243.70 347.91,244.22 349.57,244.22 349.57,244.79 351.50,244.79 351.50,245.69 352.64,245.69 352.64,245.99 354.10,245.99 354.10,246.38 355.44,246.38 355.44,246.22 357.15,246.22 357.15,246.60 358.36,246.60 358.36,246.75 359.66,246.75 359.66,246.85 360.00,246.85 360.00,249.90"/>
<polygon fill="#3653a6" points="367.00,249.90 367.00,246.28 368.04,246.28 368.04,245.08 369.12,245.08 369.12,244.96 370.21,244.96 370.21,245.53 371.95,245.53 371.95,246.15 373.09,246.15 373.09,246.93 374.92,246.93 374.92,246.49 376.15,246.49 376.15,246.60 377.91,246.60 377.91,246.74 379.59,246.74 379.59,246.64 381.27,246.64 381.27,246.15 382.58,246.15 382.58,246.00 384.39,246.00 384.39,246.32 385.92,246.32 385.92,246.03 387.60,246.03 387.60,245.75 389.39,245.75 389.39,246.14 390.49,246.14 390.49,246.15 392.13,246.15 392.13,246.25 393.29,246.25 393.29,244.97 394.84,244.97 394.84,245.77 396.77,245.77 396.77,243.37 398.43,243.37 398.43,241.90 400.03,241.90 400.03,241.19 401.92,241.19 401.92,242.30 402.95,242.30 402.95,244.25 404.05,244.25 404.05,243.83 405.31,243.83 405.31,245.76 407.26,245.76 407.26,246.54 408.56,246.54 408.56,246.70 410.07,246.70 410.07,247.15 411.42,247.15 411.42,246.72 413.19,246.72 413.19,247.09 414.44,247.09 414.44,246.80 416.03,246.80 416.03,247.22 417.97,247.22 417.97,247.22 419.63,247.22 419.63,247.62 421.39,247.62 421.39,247.73 422.50,247.73 422.50,249.90"/>
<polygon fill="#3653a6" points="427.50,249.90 427.50,246.27 429.39,246.27 429.39,246.42 430.85,246.42 430.85,246.61 432.15,246.61 432.15,246.56 433.69,246.56 433.69,246.53 435.28,246.53 435.28,246.41 436.48,246.41 436.48,246.71 437.82,246.71 437.82,246.81 438.85,246.81 438.85,246.37 440.70,246.37 440.70,246.32 441.76,246.32 441.76,245.21 443.22,245.21 443.22,245.16 444.39,245.16 444.39,245.52 445.85,245.52 445.85,245.39 447.62,245.39 447.62,245.18 448.66,245.18 448.66,245.09 450.28,245.09 450.28,244.68 451.53,244.68 451.53,244.61 453.36,244.61 453.36,244.55 454.77,244.55 454.77,244.54 456.46,244.54 456.46,244.95 457.47,244.95 457.47,245.66 458.57,245.66 458.57,245.55 459.90,245.55 459.90,249.50 460.00,249.50 460.00,249.90"/>
<polygon fill="#3653a6" points="473.00,249.90 473.00,248.52 473.99,248.52 473.99,248.61 475.91,248.61 475.91,248.27 477.41,248.27 477.41,248.30 477.70,248.30 477.70,249.90"/>
<polygon fill="#3653a6" points="480.80,249.90 480.80,246.75 482.17,246.75 482.17,246.78 483.96,246.78 483.96,247.32 485.91,247.32 485.91,247.08 487.82,247.08 487.82,247.20 489.49,247.20 489.49,247.39 491.36,247.39 491.36,247.22 492.91,247.22 492.91,247.11 494.27,247.11 494.27,246.75 494.60,246.75 494.60,249.90"/>
<polygon fill="#3653a6" points="498.00,249.90 498.00,247.41 499.34,247.41 499.34,247.65 500.66,247.65 500.66,247.62 502.53,247.62 502.53,247.61 502.80,247.61 502.80,249.90"/>
<polygon fill="#3653a6" points="507.70,249.90 507.70,247.69 509.41,247.69 509.41,247.47 511.12,247.47 511.12,247.72 512.76,247.72 512.76,247.74 513.85,247.74 513.85,247.55 515.17,247.55 515.17,246.88 516.16,246.88 516.16,246.00 517.53,246.00 517.53,244.67 519.04,244.67 519.04,245.35 520.00,245.35 520.00,249.90"/>
<rect x="52.5" y="278.0" width="1.5" height="2" fill="#5e3416"/>
<rect x="117" y="278.0" width="5" height="2" fill="#5e3416"/>
<rect x="145" y="278.0" width="5" height="2" fill="#5e3416"/>
<rect x="152.5" y="278.0" width="4.5" height="2" fill="#5e3416"/>
<rect x="214.5" y="278.0" width="5.0" height="2" fill="#5e3416"/>
<rect x="229.5" y="278.0" width="5.0" height="2" fill="#5e3416"/>
<rect x="242.5" y="278.0" width="5.0" height="2" fill="#5e3416"/>
<rect x="266.25" y="278.0" width="7.5" height="2" fill="#5e3416"/>
<rect x="292" y="278.0" width="10" height="2" fill="#5e3416"/>
<rect x="294.9253663450407" y="276.4" width="1.6625376259400568" height="1.7" fill="#5e3416"/>
<rect x="318.75" y="278.0" width="5.0" height="2" fill="#5e3416"/>
<rect x="476.2" y="278.0" width="5.100000000000023" height="2" fill="#5e3416"/>
<rect x="496.5" y="278.0" width="5.5" height="2" fill="#5e3416"/>
<polygon fill="#8a4b1b" points="328.00,279.75 328.00,277.26 329.81,277.26 329.81,277.05 331.59,277.05 331.59,276.39 332.88,276.39 332.88,276.50 333.95,276.50 333.95,275.66 335.47,275.66 335.47,275.49 336.68,275.49 336.68,273.51 337.91,273.51 337.91,273.04 338.96,273.04 338.96,272.65 340.21,272.65 340.21,272.54 341.31,272.54 341.31,271.93 343.03,271.93 343.03,273.26 344.51,273.26 344.51,274.66 345.94,274.66 345.94,274.71 347.61,274.71 347.61,275.25 348.94,275.25 348.94,275.97 350.23,275.97 350.23,275.91 351.35,275.91 351.35,275.99 352.78,275.99 352.78,275.89 353.72,275.89 353.72,275.92 355.03,275.92 355.03,275.61 356.48,275.61 356.48,275.88 357.53,275.88 357.53,275.32 359.35,275.32 359.35,275.01 360.54,275.01 360.54,273.76 362.35,273.76 362.35,272.35 364.05,272.35 364.05,265.00 365.86,265.00 365.86,259.20 366.98,259.20 366.98,257.41 368.49,257.41 368.49,261.90 370.15,261.90 370.15,264.07 371.53,264.07 371.53,266.61 372.49,266.61 372.49,270.26 374.05,270.26 374.05,272.15 375.70,272.15 375.70,271.97 377.10,271.97 377.10,273.27 378.18,273.27 378.18,273.90 379.68,273.90 379.68,273.28 381.09,273.28 381.09,274.72 382.45,274.72 382.45,274.74 384.09,274.74 384.09,275.90 385.70,275.90 385.70,276.63 387.43,276.63 387.43,277.65 388.48,277.65 388.48,278.25 389.48,278.25 389.48,278.25 390.71,278.25 390.71,278.25 391.25,278.25 391.25,279.75"/>
<rect x="75" y="307.5" width="5" height="2" fill="#5e3416"/>
<rect x="148.25" y="307.5" width="5.0" height="2" fill="#5e3416"/>
<rect x="177" y="307.5" width="13.5" height="2" fill="#5e3416"/>
<rect x="179.7261836516602" y="306.3" width="1.546734595848617" height="1.7" fill="#5e3416"/>
<rect x="224.5" y="307.5" width="5.0" height="2" fill="#5e3416"/>
<rect x="237" y="307.5" width="5" height="2" fill="#5e3416"/>
<rect x="262" y="307.5" width="5" height="2" fill="#5e3416"/>
<rect x="279.5" y="307.5" width="11.75" height="2" fill="#5e3416"/>
<rect x="285.7846032159938" y="306.3" width="2.8526905047427924" height="1.7" fill="#5e3416"/>
<rect x="292.5" y="307.5" width="4.5" height="2" fill="#5e3416"/>
<rect x="299.5" y="307.5" width="5.5" height="2" fill="#5e3416"/>
<rect x="407" y="307.5" width="4.25" height="2" fill="#5e3416"/>
<rect x="427.7" y="307.5" width="8.100000000000023" height="2" fill="#5e3416"/>
<rect x="428.99472699435046" y="305.9" width="1.8101064734039398" height="1.7" fill="#5e3416"/>
<rect x="450.3" y="307.5" width="5.099999999999966" height="2" fill="#5e3416"/>
<rect x="487.3" y="307.5" width="7.399999999999977" height="2" fill="#5e3416"/>
<rect x="505.8" y="307.5" width="5.099999999999966" height="2" fill="#5e3416"/>
<polygon fill="#8a4b1b" points="327.00,308.75 327.00,307.25 328.48,307.25 328.48,306.08 330.05,306.08 330.05,305.54 331.57,305.54 331.57,305.32 332.50,305.32 332.50,304.79 333.69,304.79 333.69,303.74 334.86,303.74 334.86,302.11 336.40,302.11 336.40,299.21 337.43,299.21 337.43,299.05 338.76,299.05 338.76,296.20 339.78,296.20 339.78,298.15 341.24,298.15 341.24,297.74 342.33,297.74 342.33,300.71 343.87,300.71 343.87,302.90 345.11,302.90 345.11,303.72 346.39,303.72 346.39,303.48 347.87,303.48 347.87,303.29 349.53,303.29 349.53,302.96 350.86,302.96 350.86,302.96 352.62,302.96 352.62,302.89 354.17,302.89 354.17,302.60 355.61,302.60 355.61,301.08 357.31,301.08 357.31,298.62 359.00,298.62 359.00,298.41 360.33,298.41 360.33,299.15 361.59,299.15 361.59,298.81 363.05,298.81 363.05,297.69 364.01,297.69 364.01,293.24 365.18,293.24 365.18,288.70 366.96,288.70 366.96,284.95 368.50,284.95 368.50,288.60 369.63,288.60 369.63,288.43 370.66,288.43 370.66,293.74 371.80,293.74 371.80,296.08 373.02,296.08 373.02,299.61 374.71,299.61 374.71,302.43 376.11,302.43 376.11,303.63 377.84,303.63 377.84,304.12 379.08,304.12 379.08,304.52 380.65,304.52 380.65,305.75 381.87,305.75 381.87,307.25 383.65,307.25 383.65,307.25 385.13,307.25 385.13,307.25 386.37,307.25 386.37,307.25 387.57,307.25 387.57,307.25 389.03,307.25 389.03,307.25 390.00,307.25 390.00,308.75"/>
<rect x="53.25" y="337.5" width="6.25" height="2" fill="#5e3416"/>
<rect x="90" y="337.5" width="5" height="2" fill="#5e3416"/>
<rect x="159.5" y="337.5" width="5.5" height="2" fill="#5e3416"/>
<rect x="187" y="337.5" width="5" height="2" fill="#5e3416"/>
<rect x="193.75" y="337.5" width="7.5" height="2" fill="#5e3416"/>
<rect x="205" y="337.5" width="5" height="2" fill="#5e3416"/>
<rect x="226.25" y="337.5" width="11.75" height="2" fill="#5e3416"/>
<rect x="230.31233329034308" y="336.7" width="2.4749396317604306" height="1.7" fill="#5e3416"/>
<rect x="246.25" y="337.5" width="5.0" height="2" fill="#5e3416"/>
<rect x="258.75" y="337.5" width="5.0" height="2" fill="#5e3416"/>
<rect x="274.5" y="337.5" width="13.0" height="2" fill="#5e3416"/>
<rect x="281.8094048648337" y="336.7" width="1.599827047434636" height="1.7" fill="#5e3416"/>
<rect x="296.25" y="337.5" width="7.5" height="2" fill="#5e3416"/>
<rect x="401.2" y="337.5" width="8.5" height="2" fill="#5e3416"/>
<rect x="404.2800219658974" y="336.3" width="2.6853715254671755" height="1.7" fill="#5e3416"/>
<rect x="434.6" y="337.5" width="12.099999999999966" height="2" fill="#5e3416"/>
<rect x="443.14966763307416" y="335.9" width="2.9846364362272704" height="1.7" fill="#5e3416"/>
<rect x="453.1" y="337.5" width="5.099999999999966" height="2" fill="#5e3416"/>
<rect x="464.7" y="337.5" width="5.0" height="2" fill="#5e3416"/>
<rect x="495.8" y="337.5" width="5.800000000000011" height="2" fill="#5e3416"/>
<rect x="504.4" y="337.5" width="8.300000000000068" height="2" fill="#5e3416"/>
<rect x="506.30053710519206" y="336.3" width="2.7455475048306908" height="1.7" fill="#5e3416"/>
<rect x="515" y="337.5" width="5" height="2" fill="#5e3416"/>
<polygon fill="#8a4b1b" points="328.00,339.00 328.00,337.50 329.38,337.50 329.38,337.50 331.01,337.50 331.01,336.83 332.79,336.83 332.79,335.79 334.42,335.79 334.42,334.87 335.93,334.87 335.93,334.06 337.27,334.06 337.27,333.92 338.58,333.92 338.58,332.69 339.83,332.69 339.83,331.84 341.49,331.84 341.49,332.80 342.50,332.80 342.50,332.91 343.92,332.91 343.92,335.57 345.54,335.57 345.54,336.03 347.36,336.03 347.36,336.53 348.33,336.53 348.33,335.86 349.84,335.86 349.84,335.92 351.03,335.92 351.03,336.57 352.17,336.57 352.17,336.92 353.50,336.92 353.50,336.86 354.95,336.86 354.95,336.50 355.95,336.50 355.95,335.57 357.68,335.57 357.68,335.61 359.05,335.61 359.05,335.16 360.47,335.16 360.47,333.38 361.95,333.38 361.95,333.49 363.50,333.49 363.50,329.96 365.16,329.96 365.16,324.30 366.80,324.30 366.80,321.18 368.38,321.18 368.38,322.24 369.56,322.24 369.56,326.70 370.83,326.70 370.83,331.63 372.57,331.63 372.57,332.05 374.18,332.05 374.18,333.43 375.44,333.43 375.44,333.66 376.55,333.66 376.55,334.41 378.06,334.41 378.06,335.38 379.78,335.38 379.78,336.12 381.60,336.12 381.60,336.79 382.63,336.79 382.63,337.50 384.38,337.50 384.38,337.50 385.86,337.50 385.86,337.50 387.32,337.50 387.32,337.50 388.31,337.50 388.31,337.50 388.75,337.50 388.75,339.00"/>
<rect x="54.5" y="367.0" width="5.5" height="2" fill="#5e3416"/>
<rect x="63.25" y="367.0" width="5.0" height="2" fill="#5e3416"/>
<rect x="74" y="367.0" width="6" height="2" fill="#5e3416"/>
<rect x="119.5" y="367.0" width="5.0" height="2" fill="#5e3416"/>
<rect x="137" y="367.0" width="4.5" height="2" fill="#5e3416"/>
<rect x="174" y="367.0" width="4.25" height="2" fill="#5e3416"/>
<rect x="187.5" y="367.0" width="5.0" height="2" fill="#5e3416"/>
<rect x="221.25" y="367.0" width="9.25" height="2" fill="#5e3416"/>
<rect x="224.00281005253493" y="366.2" width="1.574352323761092" height="1.7" fill="#5e3416"/>
<rect x="243" y="367.0" width="5" height="2" fill="#5e3416"/>
<rect x="273.75" y="367.0" width="5.0" height="2" fill="#5e3416"/>
<rect x="283.25" y="367.0" width="11.25" height="2" fill="#5e3416"/>
<rect x="290.3084635332256" y="366.2" width="1.744883565543661" height="1.7" fill="#5e3416"/>
<rect x="330.5" y="367.0" width="5.0" height="2" fill="#5e3416"/>
<rect x="345" y="367.0" width="6.25" height="2" fill="#5e3416"/>
<rect x="360.5" y="367.0" width="24.0" height="2" fill="#5e3416"/>
<rect x="369.1434110920939" y="365.8" width="2.099610505461502" height="1.7" fill="#5e3416"/>
<rect x="365.9533882550954" y="366.2" width="2.5696788173757286" height="1.7" fill="#5e3416"/>
<rect x="362.1480512491486" y="365.8" width="2.226023129570967" height="1.7" fill="#5e3416"/>
<rect x="429.6" y="367.0" width="5.0" height="2" fill="#5e3416"/>
<rect x="443.4" y="367.0" width="5.600000000000023" height="2" fill="#5e3416"/>
<rect x="464.2" y="367.0" width="4.600000000000023" height="2" fill="#5e3416"/>
<rect x="503.9" y="367.0" width="5.800000000000011" height="2" fill="#5e3416"/>
<rect x="52" y="397.0" width="5" height="2" fill="#347536"/>
<rect x="65.75" y="397.0" width="20.0" height="2" fill="#347536"/>
<rect x="70.43504256246956" y="395.2" width="2.290284594380161" height="1.9" fill="#347536"/>
<rect x="78.48016584026327" y="395.8" width="2.1099098949874335" height="1.9" fill="#347536"/>
<rect x="82.21081878005553" y="396.2" width="2.5313630505654414" height="1.9" fill="#347536"/>
<rect x="88.25" y="397.0" width="5.0" height="2" fill="#347536"/>
<rect x="137" y="397.0" width="15" height="2" fill="#347536"/>
<rect x="141.92942214435934" y="396.2" width="2.048454701490706" height="1.9" fill="#347536"/>
<rect x="144.57863732152995" y="395.8" width="2.7601226862651087" height="1.9" fill="#347536"/>
<rect x="156.5" y="397.0" width="5.5" height="2" fill="#347536"/>
<rect x="166.5" y="397.0" width="28.5" height="2" fill="#347536"/>
<rect x="172.6399686219193" y="395.2" width="1.5840723810546" height="1.9" fill="#347536"/>
<rect x="172.00074690350883" y="396.2" width="2.274286226463986" height="1.9" fill="#347536"/>
<rect x="185.9676447432084" y="396.2" width="2.783673216694951" height="1.9" fill="#347536"/>
<rect x="172.72594161088185" y="395.2" width="1.9051804930831504" height="1.9" fill="#347536"/>
<rect x="232.5" y="397.0" width="13.0" height="2" fill="#347536"/>
<rect x="240.6608411930021" y="395.8" width="2.470815526620135" height="1.9" fill="#347536"/>
<rect x="236.8601902099" y="396.2" width="1.9286569495373156" height="1.9" fill="#347536"/>
<rect x="269.5" y="397.0" width="11.75" height="2" fill="#347536"/>
<rect x="275.76914415138754" y="396.2" width="2.0950271708976476" height="1.9" fill="#347536"/>
<rect x="288" y="397.0" width="6.5" height="2" fill="#347536"/>
<rect x="307.5" y="397.0" width="7.5" height="2" fill="#347536"/>
<rect x="317.5" y="397.0" width="27.5" height="2" fill="#347536"/>
<rect x="323.79461543292643" y="395.8" width="1.9922786954701317" height="1.9" fill="#347536"/>
<rect x="325.95799729235637" y="396.2" width="2.682453076751719" height="1.9" fill="#347536"/>
<rect x="333.59335325014564" y="396.2" width="2.9995869259936505" height="1.9" fill="#347536"/>
<rect x="330.0227634878966" y="395.8" width="2.4370528096384665" height="1.9" fill="#347536"/>
<rect x="368.5" y="397.0" width="2.5" height="2" fill="#347536"/>
<rect x="371.5" y="397.0" width="9.199999999999989" height="2" fill="#347536"/>
<rect x="375.3708698862808" y="395.8" width="2.458031770412123" height="1.9" fill="#347536"/>
<rect x="384.5" y="397.0" width="4.25" height="2" fill="#347536"/>
<rect x="394.5" y="397.0" width="5.0" height="2" fill="#347536"/>
<rect x="402.5" y="397.0" width="4.5" height="2" fill="#347536"/>
<rect x="412.5" y="397.0" width="5.0" height="2" fill="#347536"/>
<rect x="430.5" y="397.0" width="20.80000000000001" height="2" fill="#347536"/>
<rect x="431.8753968117053" y="395.2" width="2.629099602380913" height="1.9" fill="#347536"/>
<rect x="441.24114616801717" y="396.2" width="2.7356914885742256" height="1.9" fill="#347536"/>
<rect x="439.55001753440644" y="395.8" width="2.51946617989337" height="1.9" fill="#347536"/>
<rect x="457.3" y="397.0" width="15.399999999999977" height="2" fill="#347536"/>
<rect x="469.51408154825924" y="396.2" width="1.7587219340510178" height="1.9" fill="#347536"/>
<rect x="459.2514623345578" y="395.2" width="2.62733975954378" height="1.9" fill="#347536"/>
<rect x="489.6" y="397.0" width="5.099999999999966" height="2" fill="#347536"/>
<rect x="497.5" y="397.0" width="22.5" height="2" fill="#347536"/>
<rect x="505.48998960854885" y="395.8" width="2.5157776598283483" height="1.9" fill="#347536"/>
<rect x="513.3215406550661" y="395.8" width="1.9798784281754653" height="1.9" fill="#347536"/>
<rect x="512.0917705331921" y="396.2" width="2.7531350491478355" height="1.9" fill="#347536"/>
<polygon fill="#2f8034" points="350.00,398.40 350.00,396.78 351.78,396.78 351.78,395.95 353.45,395.95 353.45,395.19 355.00,395.19 355.00,393.72 356.54,393.72 356.54,392.41 357.55,392.41 357.55,393.48 358.55,393.48 358.55,393.34 359.59,393.34 359.59,395.26 360.64,395.26 360.64,395.07 361.92,395.07 361.92,393.40 363.67,393.40 363.67,391.55 365.22,391.55 365.22,392.38 366.53,392.38 366.53,395.73 367.91,395.73 367.91,396.90 368.50,396.90 368.50,398.40"/>
<rect x="52" y="425.8" width="11.25" height="2" fill="#347536"/>
<rect x="58.60396953670095" y="424.6" width="1.803186815396724" height="1.9" fill="#347536"/>
<rect x="85.75" y="425.8" width="7.5" height="2" fill="#347536"/>
<rect x="102" y="425.8" width="5" height="2" fill="#347536"/>
<rect x="137.75" y="425.8" width="5.5" height="2" fill="#347536"/>
<rect x="158.25" y="425.8" width="5.0" height="2" fill="#347536"/>
<rect x="233" y="425.8" width="5" height="2" fill="#347536"/>
<rect x="242.5" y="425.8" width="5.0" height="2" fill="#347536"/>
<rect x="263" y="425.8" width="5" height="2" fill="#347536"/>
<rect x="281.25" y="425.8" width="5.0" height="2" fill="#347536"/>
<rect x="289.5" y="425.8" width="11.75" height="2" fill="#347536"/>
<rect x="293.1835737424356" y="425.0" width="2.47709420341718" height="1.9" fill="#347536"/>
<rect x="301" y="425.8" width="0.25" height="2" fill="#347536"/>
<rect x="310.5" y="425.8" width="14.5" height="2" fill="#347536"/>
<rect x="315.4585514866542" y="424.0" width="2.5256137109013936" height="1.9" fill="#347536"/>
<rect x="316.2543127986032" y="424.0" width="2.7634488507614865" height="1.9" fill="#347536"/>
<rect x="336.25" y="425.8" width="13.25" height="2" fill="#347536"/>
<rect x="340.56394590534734" y="424.0" width="1.721751054530693" height="1.9" fill="#347536"/>
<rect x="343.76048680261255" y="424.6" width="1.9920329610676508" height="1.9" fill="#347536"/>
<rect x="379.5" y="425.8" width="4.25" height="2" fill="#347536"/>
<rect x="388.75" y="425.8" width="6.25" height="2" fill="#347536"/>
<rect x="401.25" y="425.8" width="10.0" height="2" fill="#347536"/>
<rect x="406.4345479230363" y="425.0" width="2.4485748662940807" height="1.9" fill="#347536"/>
<rect x="417.5" y="425.8" width="5.100000000000023" height="2" fill="#347536"/>
<rect x="469.7" y="425.8" width="5.300000000000011" height="2" fill="#347536"/>
<rect x="499.3" y="425.8" width="5.699999999999989" height="2" fill="#347536"/>
<rect x="513.2" y="425.8" width="5.0" height="2" fill="#347536"/>
<polygon fill="#2f8034" points="349.50,427.60 349.50,424.99 350.73,424.99 350.73,423.65 351.68,423.65 351.68,423.52 353.32,423.52 353.32,422.82 354.45,422.82 354.45,423.09 356.19,423.09 356.19,422.95 357.26,422.95 357.26,422.10 358.66,422.10 358.66,421.71 359.67,421.71 359.67,419.96 361.15,419.96 361.15,421.78 362.51,421.78 362.51,421.19 364.33,421.19 364.33,419.80 365.38,419.80 365.38,418.93 366.74,418.93 366.74,419.15 368.53,419.15 368.53,421.23 369.72,421.23 369.72,421.84 370.77,421.84 370.77,424.66 372.46,424.66 372.46,426.10 373.30,426.10 373.30,427.60"/>
<rect x="55.75" y="455.3" width="5.0" height="2" fill="#347536"/>
<rect x="99" y="455.3" width="5" height="2" fill="#347536"/>
<rect x="130" y="455.3" width="5" height="2" fill="#347536"/>
<rect x="140.75" y="455.3" width="10.0" height="2" fill="#347536"/>
<rect x="142.89066493134695" y="454.5" width="2.849074669138142" height="1.9" fill="#347536"/>
<rect x="193" y="455.3" width="11.5" height="2" fill="#347536"/>
<rect x="200.92951807949865" y="453.5" width="1.986684259370199" height="1.9" fill="#347536"/>
<rect x="225.5" y="455.3" width="5.75" height="2" fill="#347536"/>
<rect x="270.5" y="455.3" width="5.75" height="2" fill="#347536"/>
<rect x="282.5" y="455.3" width="5.5" height="2" fill="#347536"/>
<rect x="377.5" y="455.3" width="12.5" height="2" fill="#347536"/>
<rect x="379.42598611551307" y="453.5" width="2.7103547002101287" height="1.9" fill="#347536"/>
<rect x="383.6698175206014" y="453.5" width="2.972970913328832" height="1.9" fill="#347536"/>
<rect x="393.75" y="455.3" width="3.75" height="2" fill="#347536"/>
<rect x="399.5" y="455.3" width="5.5" height="2" fill="#347536"/>
<rect x="401.8" y="455.3" width="4.0" height="2" fill="#347536"/>
<rect x="414.5" y="455.3" width="4.5" height="2" fill="#347536"/>
<rect x="427.7" y="455.3" width="14.300000000000011" height="2" fill="#347536"/>
<rect x="429.83739842226163" y="454.1" width="1.5304967296029692" height="1.9" fill="#347536"/>
<rect x="434.2332495112733" y="454.1" width="2.5016545872357145" height="1.9" fill="#347536"/>
<rect x="515.5" y="455.3" width="4.5" height="2" fill="#347536"/>
<polygon fill="#2f8034" points="327.00,457.30 327.00,451.76 328.17,451.76 328.17,450.86 329.32,450.86 329.32,448.51 330.26,448.51 330.26,449.76 332.02,449.76 332.02,449.07 333.29,449.07 333.29,452.28 334.69,452.28 334.69,453.01 335.69,453.01 335.69,454.44 336.74,454.44 336.74,455.25 338.29,455.25 338.29,455.42 339.78,455.42 339.78,455.13 341.08,455.13 341.08,455.27 342.59,455.27 342.59,455.19 343.93,455.19 343.93,455.47 345.16,455.47 345.16,455.44 346.65,455.44 346.65,455.07 348.22,455.07 348.22,455.27 349.20,455.27 349.20,454.15 350.63,454.15 350.63,453.21 352.22,453.21 352.22,450.78 353.13,450.78 353.13,450.31 354.92,450.31 354.92,447.70 356.16,447.70 356.16,445.77 357.20,445.77 357.20,446.32 358.71,446.32 358.71,447.01 360.00,447.01 360.00,446.47 361.73,446.47 361.73,447.10 363.53,447.10 363.53,449.62 364.93,449.62 364.93,452.02 366.46,452.02 366.46,453.62 368.00,453.62 368.00,450.76 369.75,450.76 369.75,451.15 370.76,451.15 370.76,450.08 371.84,450.08 371.84,450.27 372.78,450.27 372.78,453.15 374.51,453.15 374.51,455.78 375.50,455.78 375.50,457.30"/>
<rect x="414.5" y="453.6" width="4.5" height="3.7" fill="#347536"/>
<rect x="146" y="453.6" width="4.5" height="3.7" fill="#347536"/>
<rect x="158.5" y="424.6" width="4.5" height="3.2" fill="#347536"/>
<rect x="87" y="425" width="4" height="2.8" fill="#347536"/>
<text x="47.3" y="195.85" fill="#5a2430" font-size="4.85" font-weight="bold" text-anchor="end" stroke="#5a2430" stroke-width="0.15" >2.5</text>
<line x1="47.7" y1="196.5" x2="51" y2="196.5" stroke="#5a2430" stroke-width="0.7" />
<text x="47.3" y="219.55" fill="#5a2430" font-size="4.85" font-weight="bold" text-anchor="end" stroke="#5a2430" stroke-width="0.15" >0.01</text>
<line x1="47.7" y1="220.20000000000002" x2="51" y2="220.20000000000002" stroke="#5a2430" stroke-width="0.7" />
<text x="47.3" y="224.75" fill="#5a2430" font-size="4.85" font-weight="bold" text-anchor="end" stroke="#5a2430" stroke-width="0.15" >2.5</text>
<line x1="47.7" y1="225.4" x2="51" y2="225.4" stroke="#5a2430" stroke-width="0.7" />
<text x="47.3" y="249.15" fill="#5a2430" font-size="4.85" font-weight="bold" text-anchor="end" stroke="#5a2430" stroke-width="0.15" >0.01</text>
<line x1="47.7" y1="249.8" x2="51" y2="249.8" stroke="#5a2430" stroke-width="0.7" />
<text x="47.3" y="254.75" fill="#5a2430" font-size="4.85" font-weight="bold" text-anchor="end" stroke="#5a2430" stroke-width="0.15" >8</text>
<line x1="47.7" y1="255.4" x2="51" y2="255.4" stroke="#5a2430" stroke-width="0.7" />
<text x="47.3" y="278.45" fill="#5a2430" font-size="4.85" font-weight="bold" text-anchor="end" stroke="#5a2430" stroke-width="0.15" >0.01</text>
<line x1="47.7" y1="279.09999999999997" x2="51" y2="279.09999999999997" stroke="#5a2430" stroke-width="0.7" />
<text x="47.3" y="284.25" fill="#5a2430" font-size="4.85" font-weight="bold" text-anchor="end" stroke="#5a2430" stroke-width="0.15" >8</text>
<line x1="47.7" y1="284.9" x2="51" y2="284.9" stroke="#5a2430" stroke-width="0.7" />
<text x="47.3" y="308.25" fill="#5a2430" font-size="4.85" font-weight="bold" text-anchor="end" stroke="#5a2430" stroke-width="0.15" >0.01</text>
<line x1="47.7" y1="308.9" x2="51" y2="308.9" stroke="#5a2430" stroke-width="0.7" />
<text x="47.3" y="314.05" fill="#5a2430" font-size="4.85" font-weight="bold" text-anchor="end" stroke="#5a2430" stroke-width="0.15" >8</text>
<line x1="47.7" y1="314.7" x2="51" y2="314.7" stroke="#5a2430" stroke-width="0.7" />
<text x="47.3" y="339.05" fill="#5a2430" font-size="4.85" font-weight="bold" text-anchor="end" stroke="#5a2430" stroke-width="0.15" >0.01</text>
<line x1="47.7" y1="339.7" x2="51" y2="339.7" stroke="#5a2430" stroke-width="0.7" />
<text x="47.3" y="344.75" fill="#5a2430" font-size="4.85" font-weight="bold" text-anchor="end" stroke="#5a2430" stroke-width="0.15" >5</text>
<line x1="47.7" y1="345.4" x2="51" y2="345.4" stroke="#5a2430" stroke-width="0.7" />
<text x="47.3" y="367.55" fill="#5a2430" font-size="4.85" font-weight="bold" text-anchor="end" stroke="#5a2430" stroke-width="0.15" >0.01</text>
<line x1="47.7" y1="368.2" x2="51" y2="368.2" stroke="#5a2430" stroke-width="0.7" />
<text x="47.3" y="373.25" fill="#5a2430" font-size="4.85" font-weight="bold" text-anchor="end" stroke="#5a2430" stroke-width="0.15" >1.5</text>
<line x1="47.7" y1="373.9" x2="51" y2="373.9" stroke="#5a2430" stroke-width="0.7" />
<text x="47.3" y="397.75" fill="#5a2430" font-size="4.85" font-weight="bold" text-anchor="end" stroke="#5a2430" stroke-width="0.15" >0.01</text>
<line x1="47.7" y1="398.4" x2="51" y2="398.4" stroke="#5a2430" stroke-width="0.7" />
<text x="47.3" y="403.05" fill="#5a2430" font-size="4.85" font-weight="bold" text-anchor="end" stroke="#5a2430" stroke-width="0.15" >1.5</text>
<line x1="47.7" y1="403.7" x2="51" y2="403.7" stroke="#5a2430" stroke-width="0.7" />
<text x="47.3" y="426.55" fill="#5a2430" font-size="4.85" font-weight="bold" text-anchor="end" stroke="#5a2430" stroke-width="0.15" >0.01</text>
<line x1="47.7" y1="427.2" x2="51" y2="427.2" stroke="#5a2430" stroke-width="0.7" />
<text x="47.3" y="431.75" fill="#5a2430" font-size="4.85" font-weight="bold" text-anchor="end" stroke="#5a2430" stroke-width="0.15" >1.5</text>
<line x1="47.7" y1="432.4" x2="51" y2="432.4" stroke="#5a2430" stroke-width="0.7" />
<text x="47.3" y="456.75" fill="#5a2430" font-size="4.85" font-weight="bold" text-anchor="end" stroke="#5a2430" stroke-width="0.15" >0.01</text>
<line x1="47.7" y1="457.4" x2="51" y2="457.4" stroke="#5a2430" stroke-width="0.7" />
<text x="47.3" y="466.75" fill="#5a2430" font-size="4.85" font-weight="bold" text-anchor="end" stroke="#5a2430" stroke-width="0.15" >2.1</text>
<line x1="47.7" y1="467.4" x2="51" y2="467.4" stroke="#5a2430" stroke-width="0.7" />
<text x="47.3" y="485.95" fill="#5a2430" font-size="4.85" font-weight="bold" text-anchor="end" stroke="#5a2430" stroke-width="0.15" >-1</text>
<line x1="47.7" y1="486.59999999999997" x2="51" y2="486.59999999999997" stroke="#5a2430" stroke-width="0.7" />
<path d="M53.5,480.2v-2.3M55.5,480.2v-1.2M56.5,480.2v-1.6M59.5,480.2v-1.4M62.5,480.2v-1.1M68.5,480.2v-2.0M69.5,480.2v-2.2M75.5,480.2v-2.8M77.5,480.2v-2.0M78.5,480.2v-2.2M79.5,480.2v-2.9" stroke="#1e2568" stroke-width="1" fill="none" opacity="0.85"/>
<path d="M52.5,481.2v3.6M53.5,481.2v1.2M54.5,481.2v2.7M55.5,481.2v4.3M57.5,481.2v2.6M58.5,481.2v4.4M59.5,481.2v2.2M60.5,481.2v3.3M61.5,481.2v3.2M62.5,481.2v3.7M63.5,481.2v3.3M64.5,481.2v4.2M65.5,481.2v3.3M67.5,481.2v4.9M69.5,481.2v3.7M70.5,481.2v4.5M72.5,481.2v2.8M78.5,481.2v1.5M79.5,481.2v2.0" stroke="#5e1420" stroke-width="1" fill="none" opacity="0.85"/>
<line x1="52" y1="480.7" x2="81" y2="480.7" stroke="#3a2440" stroke-width="1.4" />
<path d="M113.5,480.2v-2.1M115.5,480.2v-2.0M117.5,480.2v-1.6M118.5,480.2v-1.0M124.5,480.2v-2.6M125.5,480.2v-1.4M126.5,480.2v-1.4M127.5,480.2v-3.2M128.5,480.2v-1.6M129.5,480.2v-3.1M131.5,480.2v-1.9M132.5,480.2v-1.1M134.5,480.2v-2.3M136.5,480.2v-1.9M143.5,480.2v-1.6M147.5,480.2v-1.5M156.5,480.2v-1.3M160.5,480.2v-3.4M164.5,480.2v-1.6M169.5,480.2v-2.1M173.5,480.2v-2.4M181.5,480.2v-2.4M184.5,480.2v-2.7M186.5,480.2v-3.8M187.5,480.2v-4.9M188.5,480.2v-2.9M189.5,480.2v-5.0M190.5,480.2v-2.1M191.5,480.2v-3.3M192.5,480.2v-2.6M193.5,480.2v-1.6M194.5,480.2v-3.0M195.5,480.2v-3.7M196.5,480.2v-1.7M197.5,480.2v-4.3M198.5,480.2v-1.9M199.5,480.2v-4.2M200.5,480.2v-3.0M201.5,480.2v-4.4M202.5,480.2v-4.7M203.5,480.2v-4.0M204.5,480.2v-3.9M205.5,480.2v-2.0M206.5,480.2v-0.6M207.5,480.2v-3.0M208.5,480.2v-7.0M209.5,480.2v-1.4M210.5,480.2v-2.0M211.5,480.2v-5.0M212.5,480.2v-4.5M213.5,480.2v-4.0M214.5,480.2v-2.0M215.5,480.2v-4.5M216.5,480.2v-6.5M217.5,480.2v-6.5M218.5,480.2v-2.0M219.5,480.2v-4.5M220.5,480.2v-1.6M221.5,480.2v-5.5M222.5,480.2v-0.5M223.5,480.2v-1.1M224.5,480.2v-7.0M225.5,480.2v-4.5M226.5,480.2v-4.0M227.5,480.2v-5.5M228.5,480.2v-4.5M229.5,480.2v-4.0M230.5,480.2v-7.0M231.5,480.2v-2.0M232.5,480.2v-2.5M241.5,480.2v-2.7M246.5,480.2v-2.3M251.5,480.2v-2.6M252.5,480.2v-3.3M256.5,480.2v-2.2M257.5,480.2v-1.5M258.5,480.2v-2.2M260.5,480.2v-2.2M266.5,480.2v-1.3M273.5,480.2v-1.0M274.5,480.2v-1.2M275.5,480.2v-3.3M278.5,480.2v-3.4M284.5,480.2v-3.2M286.5,480.2v-1.6M289.5,480.2v-2.6M293.5,480.2v-2.4M296.5,480.2v-1.7M311.5,480.2v-1.3M322.5,480.2v-1.6M325.5,480.2v-1.7M326.5,480.2v-2.2M327.5,480.2v-2.2M328.5,480.2v-2.6M330.5,480.2v-2.5M331.5,480.2v-1.1M334.5,480.2v-1.4M338.5,480.2v-1.2M342.5,480.2v-6.5M343.5,480.2v-5.5M344.5,480.2v-0.5M345.5,480.2v-1.7M346.5,480.2v-2.0M347.5,480.2v-1.8M348.5,480.2v-7.5M349.5,480.2v-5.0M350.5,480.2v-1.4M351.5,480.2v-0.6M352.5,480.2v-6.5M353.5,480.2v-5.0M354.5,480.2v-0.7M355.5,480.2v-5.0M356.5,480.2v-1.4M357.5,480.2v-5.5M358.5,480.2v-7.0M359.5,480.2v-3.0M360.5,480.2v-7.0M361.5,480.2v-1.8M362.5,480.2v-3.0M363.5,480.2v-2.0M364.5,480.2v-4.5M365.5,480.2v-1.5M366.5,480.2v-7.5M367.5,480.2v-5.0M368.5,480.2v-4.0M369.5,480.2v-0.8M370.5,480.2v-7.0M371.5,480.2v-2.0M372.5,480.2v-1.8M373.5,480.2v-5.0M374.5,480.2v-7.5M375.5,480.2v-4.0M376.5,480.2v-2.0M377.5,480.2v-4.5M378.5,480.2v-5.0M379.5,480.2v-1.7M380.5,480.2v-5.5M381.5,480.2v-6.5M382.5,480.2v-3.0M383.5,480.2v-4.0M384.5,480.2v-4.0M385.5,480.2v-5.0M386.5,480.2v-2.0M387.5,480.2v-5.5M388.5,480.2v-5.5M389.5,480.2v-6.0M390.5,480.2v-1.1M396.5,480.2v-2.3M397.5,480.2v-2.2M403.5,480.2v-3.0M405.5,480.2v-1.5M408.5,480.2v-2.4M409.5,480.2v-3.1M417.5,480.2v-1.3M421.5,480.2v-2.7M422.5,480.2v-4.9M424.5,480.2v-5.4M428.5,480.2v-4.7M430.5,480.2v-2.4M431.5,480.2v-5.2M433.5,480.2v-3.4M434.5,480.2v-4.9M437.5,480.2v-5.5M440.5,480.2v-3.9M442.5,480.2v-1.0M446.5,480.2v-1.5M450.5,480.2v-3.9M452.5,480.2v-3.9M455.5,480.2v-3.4M456.5,480.2v-4.5M460.5,480.2v-1.2M462.5,480.2v-4.8M463.5,480.2v-4.3M464.5,480.2v-2.0M467.5,480.2v-3.5M468.5,480.2v-2.2M470.5,480.2v-2.2M472.5,480.2v-5.0M477.5,480.2v-4.3M478.5,480.2v-3.8M479.5,480.2v-1.1M480.5,480.2v-1.6M483.5,480.2v-3.7M485.5,480.2v-4.9M487.5,480.2v-1.2M490.5,480.2v-1.4M491.5,480.2v-2.4M492.5,480.2v-2.3M493.5,480.2v-2.4M494.5,480.2v-4.8M495.5,480.2v-2.9M496.5,480.2v-4.2M498.5,480.2v-1.0M500.5,480.2v-4.6M501.5,480.2v-4.7M502.5,480.2v-2.0M503.5,480.2v-1.5M504.5,480.2v-4.5M506.5,480.2v-2.8M507.5,480.2v-5.0M508.5,480.2v-5.1M510.5,480.2v-4.4M512.5,480.2v-4.8M515.5,480.2v-5.0M516.5,480.2v-4.2M517.5,480.2v-1.7M518.5,480.2v-1.7" stroke="#1e2568" stroke-width="1" fill="none" opacity="0.85"/>
<path d="M113.5,481.2v4.5M115.5,481.2v4.5M116.5,481.2v1.7M117.5,481.2v3.4M118.5,481.2v2.5M120.5,481.2v3.5M121.5,481.2v4.6M123.5,481.2v2.6M124.5,481.2v1.3M125.5,481.2v1.2M126.5,481.2v2.5M128.5,481.2v2.5M130.5,481.2v1.3M131.5,481.2v4.3M133.5,481.2v3.2M136.5,481.2v4.1M138.5,481.2v4.2M141.5,481.2v3.1M142.5,481.2v1.1M144.5,481.2v4.7M146.5,481.2v1.9M150.5,481.2v3.6M152.5,481.2v1.7M153.5,481.2v4.2M154.5,481.2v2.6M156.5,481.2v4.6M157.5,481.2v4.3M159.5,481.2v1.5M163.5,481.2v2.0M164.5,481.2v2.0M165.5,481.2v4.6M166.5,481.2v3.3M167.5,481.2v4.7M168.5,481.2v3.1M169.5,481.2v1.0M170.5,481.2v2.9M171.5,481.2v2.3M172.5,481.2v4.1M173.5,481.2v2.1M174.5,481.2v3.2M177.5,481.2v3.8M178.5,481.2v2.9M182.5,481.2v1.5M183.5,481.2v2.0M185.5,481.2v3.9M186.5,481.2v3.6M187.5,481.2v3.9M191.5,481.2v1.6M194.5,481.2v2.0M198.5,481.2v1.1M199.5,481.2v1.4M201.5,481.2v1.4M203.5,481.2v1.2M209.5,481.2v3.1M214.5,481.2v1.1M216.5,481.2v3.5M223.5,481.2v3.0M226.5,481.2v2.3M228.5,481.2v3.6M229.5,481.2v2.1M231.5,481.2v3.5M232.5,481.2v2.2M233.5,481.2v4.8M234.5,481.2v4.6M235.5,481.2v4.1M236.5,481.2v2.1M237.5,481.2v4.3M238.5,481.2v2.7M239.5,481.2v4.6M240.5,481.2v4.3M243.5,481.2v1.2M245.5,481.2v1.2M246.5,481.2v2.1M247.5,481.2v4.7M248.5,481.2v3.1M249.5,481.2v4.2M250.5,481.2v4.0M251.5,481.2v4.4M252.5,481.2v1.2M253.5,481.2v3.4M256.5,481.2v4.9M257.5,481.2v3.8M259.5,481.2v2.2M260.5,481.2v1.3M262.5,481.2v4.7M263.5,481.2v1.4M264.5,481.2v2.4M266.5,481.2v3.0M267.5,481.2v1.6M270.5,481.2v1.5M271.5,481.2v2.4M274.5,481.2v4.5M276.5,481.2v1.2M278.5,481.2v2.3M280.5,481.2v4.0M282.5,481.2v1.3M283.5,481.2v3.5M284.5,481.2v4.6M285.5,481.2v2.7M287.5,481.2v2.0M289.5,481.2v3.0M290.5,481.2v2.8M292.5,481.2v2.0M293.5,481.2v2.5M294.5,481.2v1.1M295.5,481.2v4.0M297.5,481.2v2.4M298.5,481.2v4.2M299.5,481.2v4.6M301.5,481.2v4.3M302.5,481.2v2.7M304.5,481.2v1.3M306.5,481.2v2.8M307.5,481.2v1.6M308.5,481.2v4.3M310.5,481.2v4.1M311.5,481.2v1.2M313.5,481.2v2.7M314.5,481.2v2.2M315.5,481.2v2.0M316.5,481.2v3.1M317.5,481.2v2.3M318.5,481.2v3.1M319.5,481.2v2.6M320.5,481.2v1.8M322.5,481.2v2.5M324.5,481.2v2.6M326.5,481.2v4.1M327.5,481.2v4.6M329.5,481.2v4.6M331.5,481.2v2.7M332.5,481.2v2.8M333.5,481.2v1.5M334.5,481.2v3.6M335.5,481.2v2.2M337.5,481.2v1.4M338.5,481.2v4.5M342.5,481.2v2.6M345.5,481.2v1.1M348.5,481.2v3.2M358.5,481.2v3.3M362.5,481.2v2.3M363.5,481.2v1.4M365.5,481.2v3.5M367.5,481.2v1.7M369.5,481.2v1.8M370.5,481.2v3.4M371.5,481.2v2.4M373.5,481.2v1.2M374.5,481.2v1.2M376.5,481.2v2.8M377.5,481.2v2.0M378.5,481.2v3.2M380.5,481.2v1.9M389.5,481.2v1.0M392.5,481.2v1.1M394.5,481.2v3.5M395.5,481.2v1.6M398.5,481.2v1.5M400.5,481.2v4.7M403.5,481.2v2.6M405.5,481.2v3.1M406.5,481.2v2.0M409.5,481.2v3.4M411.5,481.2v3.3M413.5,481.2v1.1M414.5,481.2v1.9M416.5,481.2v2.9M417.5,481.2v1.4M418.5,481.2v1.2M419.5,481.2v3.9M420.5,481.2v1.2M424.5,481.2v5.3M425.5,481.2v4.5M426.5,481.2v2.6M427.5,481.2v5.0M428.5,481.2v3.3M429.5,481.2v2.2M430.5,481.2v1.8M432.5,481.2v4.5M434.5,481.2v3.6M435.5,481.2v5.5M436.5,481.2v4.6M437.5,481.2v2.6M438.5,481.2v1.8M439.5,481.2v4.7M442.5,481.2v1.7M443.5,481.2v3.3M444.5,481.2v2.0M445.5,481.2v1.0M446.5,481.2v2.0M447.5,481.2v1.9M448.5,481.2v1.6M449.5,481.2v1.7M451.5,481.2v2.2M452.5,481.2v2.6M453.5,481.2v5.2M454.5,481.2v5.1M455.5,481.2v2.1M456.5,481.2v3.5M457.5,481.2v1.9M458.5,481.2v3.9M459.5,481.2v2.4M463.5,481.2v2.0M464.5,481.2v2.5M467.5,481.2v4.5M469.5,481.2v5.0M470.5,481.2v4.3M472.5,481.2v2.1M475.5,481.2v4.8M477.5,481.2v2.4M478.5,481.2v5.1M479.5,481.2v5.2M480.5,481.2v1.2M483.5,481.2v4.7M486.5,481.2v1.9M490.5,481.2v4.4M491.5,481.2v1.1M495.5,481.2v4.5M496.5,481.2v2.0M497.5,481.2v4.7M498.5,481.2v4.4M499.5,481.2v3.2M500.5,481.2v3.2M501.5,481.2v5.2M506.5,481.2v5.0M507.5,481.2v1.9M508.5,481.2v2.7M509.5,481.2v3.1M511.5,481.2v2.5M513.5,481.2v3.0M514.5,481.2v1.6M515.5,481.2v1.9M517.5,481.2v2.5M518.5,481.2v1.9" stroke="#5e1420" stroke-width="1" fill="none" opacity="0.85"/>
<line x1="113" y1="480.7" x2="520" y2="480.7" stroke="#3a2440" stroke-width="1.4" />
</svg>
</body></html>
